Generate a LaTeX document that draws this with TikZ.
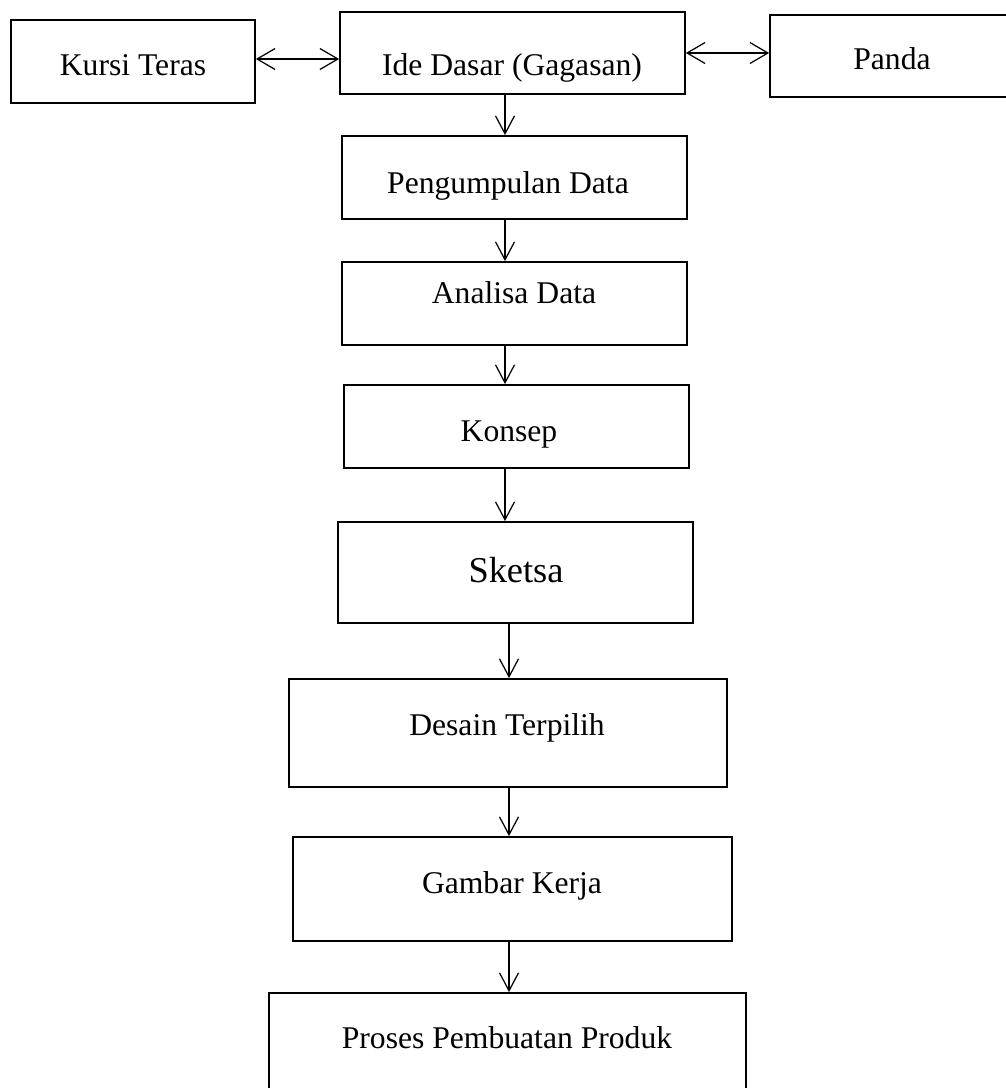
\documentclass[tikz,border=0pt]{standalone}
\usepackage{fontspec}
\setmainfont{Liberation Serif}
\usetikzlibrary{arrows.meta,fit}

\tikzstyle{block} = [rectangle, draw, line width=1pt, inner sep=0pt]
\tikzstyle{txt} = [anchor=base, inner sep=0pt, font=\fontsize{18}{22}\selectfont]
\tikzstyle{link} = [-{Straight Barb[length=0.36cm,width=0.38cm]}, line width=0.7pt]
\tikzstyle{bilink} = [{Straight Barb[length=0.36cm,width=0.42cm]}-{Straight Barb[length=0.36cm,width=0.42cm]}, line width=0.7pt]

\begin{document}
\begin{tikzpicture}[x=0.02cm, y=-0.02cm]
        \useasboundingbox (0,0) rectangle (1006,1088);
        % boxes
        \node (kursi) [block, fit={(11,20) (255,103)}] {};
        \node (ide) [block, fit={(340,12) (685,94)}] {};
        \node (panda) [block, fit={(770,15) (1014,97)}] {};
        \node (kumpul) [block, fit={(342,136) (687,219)}] {};
        \node (analisa) [block, fit={(342,262) (687,345)}] {};
        \node (konsep) [block, fit={(344,385) (689,468)}] {};
        \node (sketsa) [block, fit={(338,522) (693,623)}] {};
        \node (desain) [block, fit={(289,679) (727,787)}] {};
        \node (gambar) [block, fit={(293,837) (732,941)}] {};
        \node (proses) [block, fit={(269,993) (746,1100)}] {};
        % texts
        \node (kursi-t) [txt] at (133,76) {Kursi Teras};
        \node (ide-t) [txt] at (512,76) {Ide Dasar (Gagasan)};
        \node (panda-t) [txt] at (892,70) {Panda};
        \node (kumpul-t) [txt] at (508,193) {Pengumpulan Data};
        \node (analisa-t) [txt] at (514,303) {Analisa Data};
        \node (konsep-t) [txt] at (509,441) {Konsep};
        \node (sketsa-t) [txt, font=\fontsize{20.7}{24}\selectfont] at (516,582) {Sketsa};
        \node (desain-t) [txt] at (507,735) {Desain Terpilih};
        \node (gambar-t) [txt] at (512,893) {Gambar Kerja};
        \node (proses-t) [txt] at (507,1048) {Proses Pembuatan Produk};
        % arrows
        \coordinate (c1) at (505,0);
        \coordinate (c2) at (509,0);
        \coordinate (r1) at (0,59);
        \coordinate (r2) at (0,53);
        \draw[bilink] (kursi.east |- r1) -- (ide.west |- r1);
        \draw[bilink] (ide.east |- r2) -- (panda.west |- r2);
        \draw[link] (ide.south -| c1) -- (kumpul.north -| c1);
        \draw[link] (kumpul.south -| c1) -- (analisa.north -| c1);
        \draw[link] (analisa.south -| c1) -- (konsep.north -| c1);
        \draw[link] (konsep.south -| c1) -- (sketsa.north -| c1);
        \draw[link] (sketsa.south -| c2) -- (desain.north -| c2);
        \draw[link] (desain.south -| c2) -- (gambar.north -| c2);
        \draw[link] (gambar.south -| c2) -- (proses.north -| c2);
\end{tikzpicture}
\end{document}
